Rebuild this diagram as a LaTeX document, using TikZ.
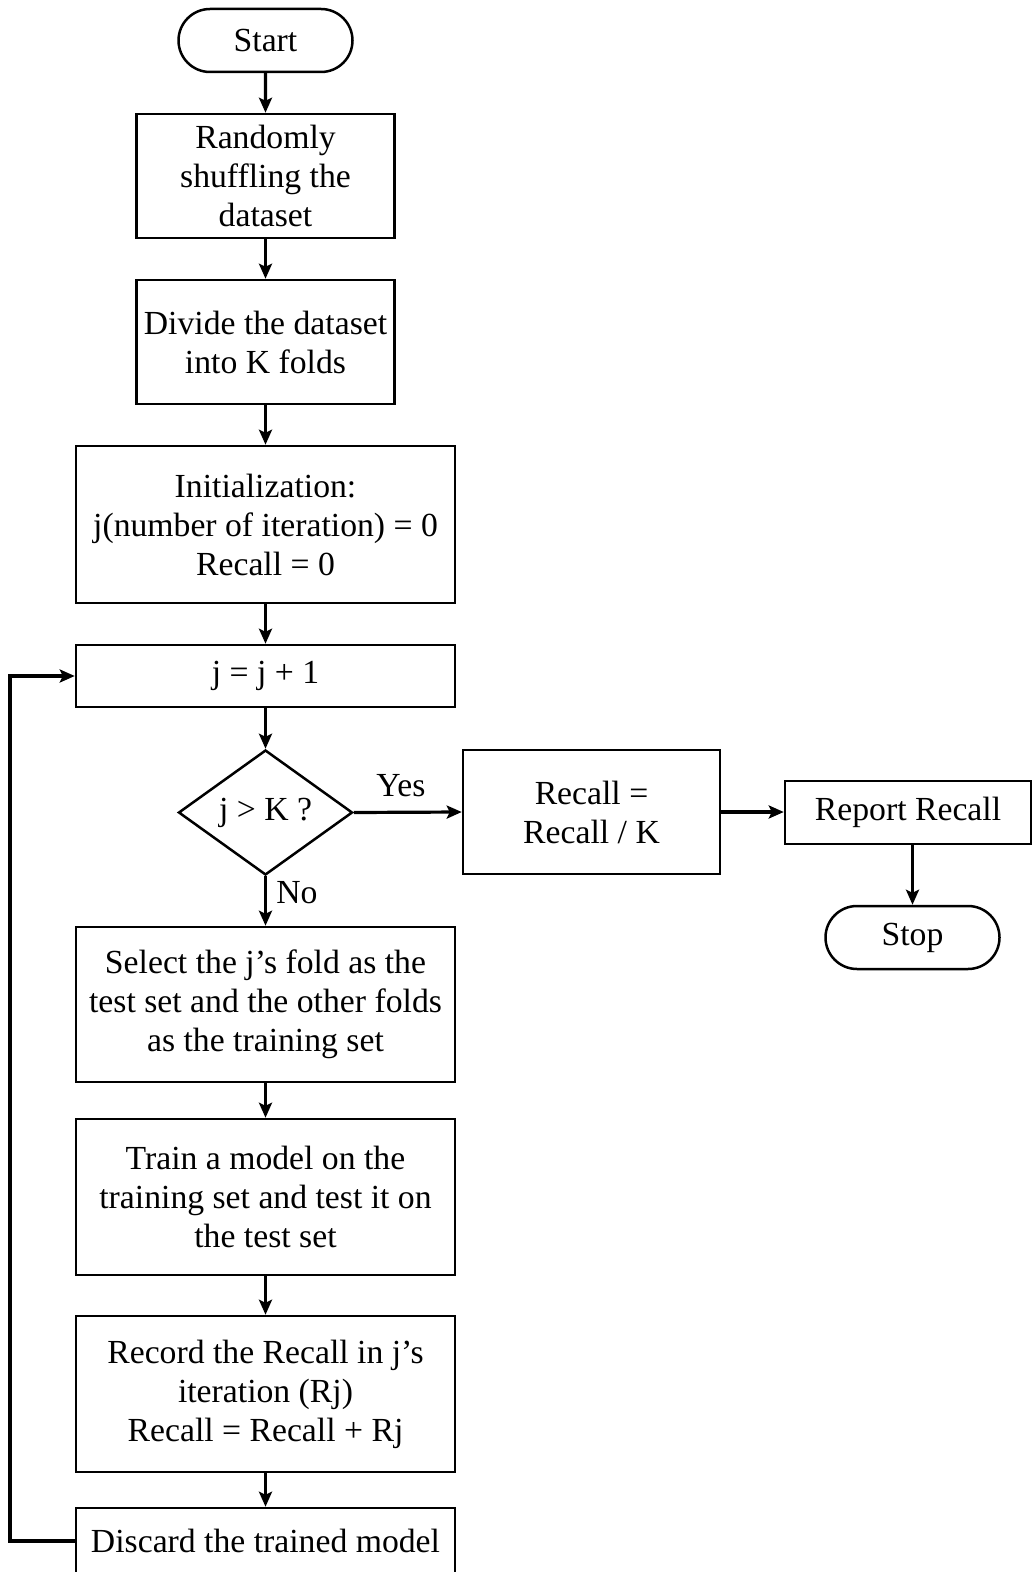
\documentclass[tikz,border=0pt]{standalone}
\usepackage{fontspec}
\setmainfont{Liberation Serif}
\usetikzlibrary{shapes.geometric,shapes.misc,arrows.meta}
\begin{document}
\begin{tikzpicture}[x=0.5pt,y=-0.5pt,
  font=\fontsize{16.85}{19.5}\selectfont,
  procbox/.style={draw, line width=1.25pt, align=center, inner sep=0pt},
  terminal/.style={draw, rounded rectangle, line width=1.25pt,
    minimum width=87pt, minimum height=31.5pt, inner sep=0pt},
  decision/.style={draw, diamond, line width=1.25pt,
    minimum width=87pt, minimum height=62.5pt, inner sep=0pt},
  flow/.style={line width=1.6pt, -{Stealth[length=7.5pt,width=6.5pt,inset=1.5pt]}},
  lbl/.style={inner sep=0pt}]
\useasboundingbox (0,0) rectangle (1034,1572);

% main column
\node[terminal] (start) at (265.5,40.5) {Start};
\node[procbox, minimum width=129pt, minimum height=62pt] (shuffle) at (265.5,176)
  {Randomly\\shuffling the\\dataset};
\node[procbox, minimum width=129pt, minimum height=62pt] (divide) at (265.5,342)
  {Divide the dataset\\into K folds};
\node[procbox, minimum width=189.5pt, minimum height=78.5pt] (init) at (265.5,524.5)
  {Initialization:\\j(number of iteration) = 0\\Recall = 0};
\node[procbox, minimum width=189.5pt, minimum height=31pt] (incr) at (265.5,676)
  {j = j + 1};
\node[decision] (test) at (265.5,812.5) {j > K ?};
\node[procbox, minimum width=189.5pt, minimum height=77.5pt] (select) at (265.5,1004.5)
  {Select the j’s fold as the\\test set and the other folds\\as the training set};
\node[procbox, minimum width=189.5pt, minimum height=78pt] (train) at (265.5,1197)
  {Train a model on the\\training set and test it on\\the test set};
\node[procbox, minimum width=189.5pt, minimum height=78pt] (record) at (265.5,1394)
  {Record the Recall in j’s\\iteration (Rj)\\Recall = Recall + Rj};
\node[procbox, minimum width=189.5pt, minimum height=33pt] (discard) at (265.5,1541)
  {Discard the trained model};

% exit branch
\node[procbox, minimum width=128.5pt, minimum height=62pt] (avg) at (591.5,812)
  {Recall =\\Recall / K};
\node[procbox, minimum width=123pt, minimum height=31.5pt] (report) at (908,812.5)
  {Report Recall};
\node[terminal] (stop) at (912.5,937.5) {Stop};

% branch labels
\node[lbl] (yes) at (401,786) {Yes};
\node[lbl] (no) at (297,893) {No};

% connectors
\draw[flow] (start) -- (shuffle);
\draw[flow] (shuffle) -- (divide);
\draw[flow] (divide) -- (init);
\draw[flow] (init) -- (incr);
\draw[flow] (incr) -- (test);
\draw[flow] (test) -- (select);
\draw[flow] (select) -- (train);
\draw[flow] (train) -- (record);
\draw[flow] (record) -- (discard);
\draw[flow] (test.east) -- (avg.west);
\draw[flow] (avg.east) -- (avg.east -| report.west);
\draw[flow] (report.south -| stop.north) -- (stop.north);

% loop back to the counter
\coordinate (loopx) at (10,0);
\draw[flow] (discard.west) -- (discard.west -| loopx) |- (incr.west);
\end{tikzpicture}
\end{document}
